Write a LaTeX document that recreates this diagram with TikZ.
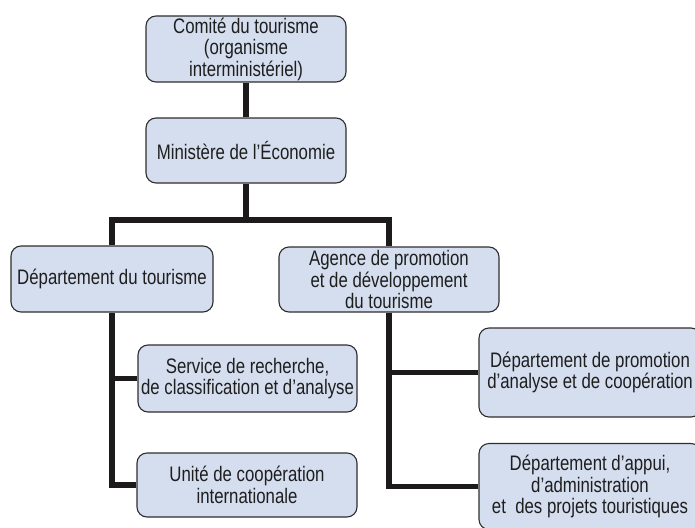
\documentclass[tikz,border=0pt]{standalone}
\usepackage{fontspec}
\setmainfont[FakeStretch=0.80, Ligatures=ResetAll]{Liberation Sans}
\usetikzlibrary{backgrounds}
\definecolor{boxfill}{HTML}{D5DEEF}
\definecolor{boxline}{HTML}{2E2E2E}
\definecolor{linkcol}{HTML}{1C1A1B}
\definecolor{textcol}{HTML}{1E1E1E}
\begin{document}
\begin{tikzpicture}[x=1pt,y=-1pt,
  box/.style={draw=boxline, fill=boxfill, line width=1.1pt, rounded corners=10pt,
    align=center, inner sep=0pt, text=textcol, font=\fontsize{21}{21.5}\selectfont},
  link/.style={draw=linkcol, line width=5.5pt, line join=miter}]
\useasboundingbox (0,0) rectangle (695,527);
\clip (0,0) rectangle (695,527);

% governing bodies
\node[box, minimum width=200pt, minimum height=66pt] (comite) at (246,49)
  {Comité du tourisme\\(organisme\\interministériel)};
\node[box, minimum width=200pt, minimum height=65pt] (ministere) at (246,150.5)
  {Ministère de l’Économie};

% second level
\node[box, minimum width=202pt, minimum height=66pt] (deptour) at (112,279)
  {Département du tourisme};
\node[box, minimum width=220pt, minimum height=65pt] (agence) at (389,279.5)
  {Agence de promotion\\et de développement\\du tourisme};

% units of the department
\node[box, minimum width=219pt, minimum height=67pt] (service) at (247.5,378.5)
  {Service de recherche,\\de classification et d'analyse};
\node[box, minimum width=220pt, minimum height=64pt] (unite) at (247,485)
  {Unité de coopération\\internationale};

% units of the agency
\node[box, minimum width=222pt, minimum height=89pt] (promo) at (590,372.5)
  {Département de promotion\\d'analyse et de coopération};
\node[box, minimum width=222pt, minimum height=86pt] (appui) at (590,486.5)
  {Département d’appui,\\d’administration\\et\ \ des projets touristiques};

\coordinate (bus) at (246,220);

\begin{scope}[on background layer]
  \draw[link] (comite.south) -- (ministere.north);
  \draw[link] (ministere.south) -- (bus);
  \draw[link] (deptour.north) |- (bus) -| (agence.north);
  \draw[link] (deptour.south) |- (unite.west);
  \draw[link] (deptour.south |- service.west) -- (service.west);
  \draw[link] (agence.south) |- (appui.west);
  \draw[link] (agence.south |- promo.west) -- (promo.west);
\end{scope}
\end{tikzpicture}
\end{document}
